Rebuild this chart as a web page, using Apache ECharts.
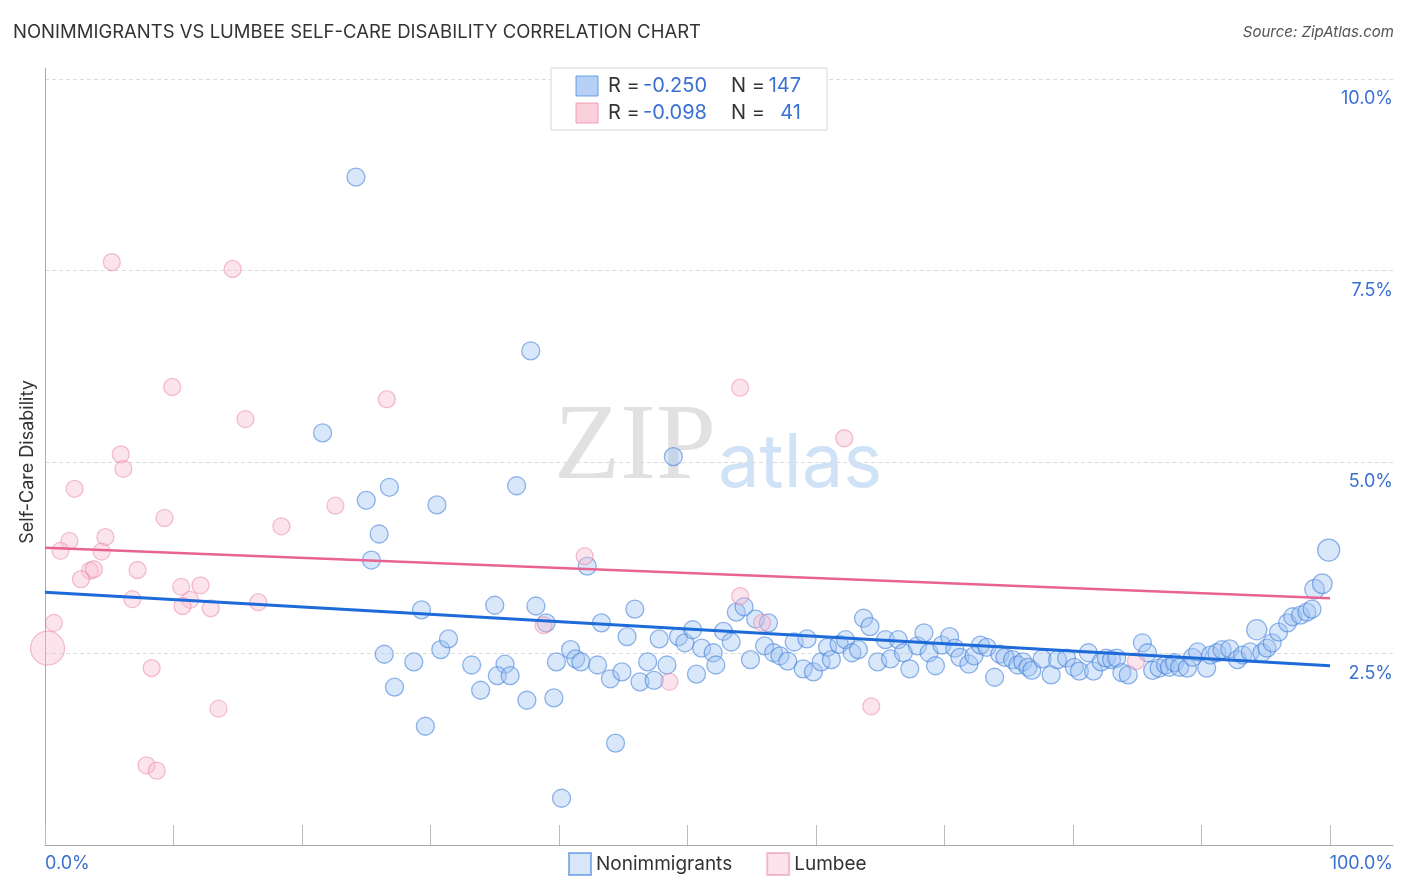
<!DOCTYPE html>
<html><head><meta charset="utf-8">
<script src="https://cdn.jsdelivr.net/npm/echarts@6/dist/echarts.min.js"></script>
<style>html,body{margin:0;padding:0;background:#fff}#c{width:1406px;height:892px}</style>
</head><body><div id="c"></div>
<script>
const titleText = 'NONIMMIGRANTS VS LUMBEE SELF-CARE DISABILITY CORRELATION CHART';
const sourceText = 'Source: ZipAtlas.com';
const seriesNames = ['Nonimmigrants', 'Lumbee'];
const statsR = ['-0.250', '-0.098'];
const statsN = ['147', '41'];
const yTickLabels = ['2.5%', '5.0%', '7.5%', '10.0%'];
const xTickLabels = ['0.0%', '100.0%'];
// [x %, y %, relative weight]
const nonimmigrants = [[24.2,8.72],[37.8,6.45],[21.6,5.38],[48.9,5.07],[25.0,4.50],[26.8,4.67],[36.7,4.69],[30.5,4.44],[26.0,4.06],[25.4,3.72],[42.2,3.64],[29.3,3.07],[35.0,3.13],[38.2,3.12],[45.9,3.08],[39.0,2.90],[43.3,2.90],[26.4,2.49],[28.7,2.39],[30.8,2.55],[31.4,2.69],[33.2,2.35],[35.8,2.36],[35.2,2.21],[36.2,2.21],[33.9,2.02],[27.2,2.06],[29.6,1.55],[37.5,1.89],[39.6,1.92],[40.2,0.61],[44.4,1.33],[39.8,2.39],[40.9,2.55],[41.3,2.43],[41.7,2.39],[43.0,2.35],[44.0,2.17],[44.9,2.26],[46.3,2.13],[46.9,2.39],[47.4,2.15],[48.4,2.35],[45.3,2.72],[47.8,2.69],[49.3,2.72],[49.8,2.64],[50.4,2.81],[51.1,2.57],[50.7,2.23],[52.0,2.51],[52.2,2.35],[52.8,2.79],[53.4,2.65],[53.8,3.04],[54.4,3.11],[54.9,2.42],[55.3,2.95],[56.3,2.90],[56.0,2.60],[56.7,2.51],[57.2,2.47],[57.8,2.40],[58.3,2.65],[59.3,2.69],[59.0,2.30],[59.8,2.26],[60.4,2.39],[60.9,2.58],[61.2,2.42],[61.8,2.62],[62.3,2.68],[62.8,2.51],[63.3,2.55],[63.7,2.96],[64.2,2.85],[64.8,2.39],[65.4,2.68],[65.8,2.43],[66.4,2.68],[66.8,2.51],[67.3,2.30],[67.9,2.60],[68.4,2.77],[68.8,2.51],[69.3,2.34],[69.8,2.61],[70.4,2.72],[70.8,2.57],[71.2,2.45],[71.9,2.36],[72.3,2.47],[72.8,2.61],[73.3,2.58],[73.9,2.19],[74.3,2.49],[74.7,2.45],[75.3,2.42],[75.7,2.35],[76.1,2.39],[76.5,2.32],[76.8,2.28],[77.6,2.43],[78.3,2.22],[78.8,2.42],[79.5,2.44],[80.1,2.32],[80.5,2.27],[81.2,2.51],[81.6,2.27],[82.2,2.39],[82.6,2.44],[83.0,2.42],[83.4,2.44],[83.8,2.25],[84.3,2.22],[85.4,2.64],[85.8,2.51],[86.2,2.28],[86.7,2.31],[87.2,2.35],[87.5,2.32],[87.9,2.38],[88.3,2.32],[88.9,2.31],[89.3,2.45],[89.7,2.52],[90.4,2.31],[90.7,2.48],[91.2,2.51],[91.6,2.55],[92.2,2.56],[92.8,2.42],[93.2,2.48],[93.8,2.52],[94.3,2.81,1.25],[94.7,2.51],[95.1,2.57],[95.5,2.64],[96.0,2.78],[96.7,2.90],[97.1,2.98],[97.7,3.00],[98.2,3.04],[98.6,3.08],[98.8,3.34,1.2],[99.4,3.41,1.2],[99.9,3.85,1.5]];
const lumbee = [[5.2,7.61],[14.6,7.52],[9.9,5.98],[26.6,5.82],[54.1,5.97],[15.6,5.56],[62.2,5.31],[5.9,5.10],[6.1,4.91],[2.3,4.65],[9.3,4.27],[22.6,4.43],[18.4,4.16],[1.9,3.97],[4.7,4.02],[1.2,3.84],[4.4,3.83],[42.0,3.77],[3.5,3.58],[3.8,3.60],[2.8,3.47],[7.2,3.59],[6.8,3.21],[10.6,3.37],[12.1,3.39],[11.3,3.20],[10.7,3.12],[12.9,3.09],[16.6,3.17],[54.1,3.25],[55.8,2.90],[38.8,2.87],[0.7,2.90],[0.2,2.57,4],[8.3,2.31],[48.6,2.13],[13.5,1.78],[64.3,1.81],[7.9,1.04],[8.7,0.97],[84.9,2.40]];
const nonimmigrantsTrend = [[0,3.30],[100,2.34]];
const lumbeeTrend = [[0,3.88],[100,3.22]];

const FONT = 'Inter, "Noto Sans", sans-serif';
const BLUE_TXT = '#3b70d3';
const chart = echarts.init(document.getElementById('c'), null, {renderer: 'canvas'});
const sizeFn = base => (v => base * Math.sqrt(v[2] || 1));

const legendBoxX = 551, legendBoxY = 68;
const graphics = [
  {type: 'text', z: 0, left: 554, top: 396, style: {text: 'ZIP', font: '108px "Liberation Serif", "DejaVu Serif", serif', fill: 'rgba(200,200,200,0.55)'}},
  {type: 'text', z: 0, left: 718, top: 428, style: {text: 'atlas', font: '74px ' + FONT, fill: 'rgba(150,190,235,0.45)'}},
  {type: 'rect', z: 10, shape: {x: legendBoxX, y: legendBoxY, width: 276, height: 62}, style: {fill: '#fff', stroke: '#d8d8d8', lineWidth: 1}}
];
const swFill = ['rgba(164,198,242,0.8)', 'rgba(249,196,212,0.8)'];
const swStroke = ['rgba(80,140,225,0.8)', 'rgba(235,140,170,0.8)'];
for (let i = 0; i < 2; i++) {
  const cy = 86 + i * 27;
  graphics.push({type: 'rect', z: 11, shape: {x: 576, y: cy - 10, width: 22, height: 20}, style: {fill: swFill[i], stroke: swStroke[i], lineWidth: 1}});
  graphics.push({type: 'text', z: 11, x: 608, y: cy, style: {text: 'R = ', font: '20px ' + FONT, fill: '#333', verticalAlign: 'middle'}});
  graphics.push({type: 'text', z: 11, x: 643, y: cy, style: {text: statsR[i], font: '20px ' + FONT, fill: BLUE_TXT, verticalAlign: 'middle'}});
  graphics.push({type: 'text', z: 11, x: 731, y: cy, style: {text: 'N = ', font: '20px ' + FONT, fill: '#333', verticalAlign: 'middle'}});
  graphics.push({type: 'text', z: 11, x: 801, y: cy, style: {text: statsN[i], font: '20px ' + FONT, fill: BLUE_TXT, verticalAlign: 'middle', align: 'right'}});
}

chart.setOption({
  animation: false,
  textStyle: {fontFamily: FONT},
  title: [
    {text: titleText, left: 13, top: 23, padding: 0, textStyle: {fontSize: 18.5, fontWeight: 'normal', color: '#333', fontFamily: FONT}},
    {text: sourceText, right: 12, top: 25, padding: 0, textStyle: {fontSize: 15, fontWeight: 'normal', fontStyle: 'italic', color: '#555', fontFamily: FONT}}
  ],
  graphic: graphics,
  legend: {
    data: seriesNames, left: 568, bottom: 16, itemWidth: 22, itemHeight: 22, itemGap: 34, icon: 'rect',
    textStyle: {fontSize: 19, color: '#333', fontFamily: FONT}, padding: [0, 0, 0, 0]
  },
  grid: [
    {left: 45, right: 13, top: 68, bottom: 47},
    {left: 45, right: 13, top: 79, bottom: 47},
    {left: 45, right: 76, top: 79, bottom: 47}
  ],
  xAxis: [
    {gridIndex: 0, type: 'value', min: 0, max: 1, interval: 1,
      axisLine: {show: true, lineStyle: {color: '#aaa', width: 1}}, axisTick: {show: false}, splitLine: {show: false},
      axisLabel: {show: true, color: BLUE_TXT, fontSize: 18, margin: 10, alignMinLabel: 'left', alignMaxLabel: 'right',
        formatter: v => (v === 0 ? xTickLabels[0] : xTickLabels[1])}},
    {gridIndex: 1, type: 'value', min: 0, max: 1, show: false},
    {gridIndex: 2, type: 'value', min: 0, max: 100, interval: 10,
      axisLine: {show: false}, axisLabel: {show: false}, splitLine: {show: false},
      axisTick: {show: true, inside: true, length: 20, lineStyle: {color: '#bbb'}}}
  ],
  yAxis: [
    {gridIndex: 0, type: 'value', min: 0, max: 1,
      axisLine: {show: true, lineStyle: {color: '#aaa'}}, axisTick: {show: false}, axisLabel: {show: false}, splitLine: {show: false}},
    {gridIndex: 1, type: 'value', min: 0, max: 10, interval: 2.5, position: 'right',
      axisLine: {show: false}, axisTick: {show: false},
      splitLine: {show: true, lineStyle: {color: '#dcdcdc', type: [4, 3], width: 1}},
      axisLabel: {show: true, inside: true, margin: 0, color: BLUE_TXT, fontSize: 18, verticalAlign: 'top', padding: [11, 0, 0, 0],
        formatter: v => { const i = Math.round(v / 2.5) - 1; return i >= 0 ? yTickLabels[i] : ''; }}},
    {gridIndex: 2, type: 'value', min: 0, max: 10, name: 'Self-Care Disability', nameLocation: 'middle', nameGap: 8,
      nameTextStyle: {fontSize: 18, color: '#333', fontFamily: FONT},
      axisLine: {show: false}, axisTick: {show: false}, axisLabel: {show: false}, splitLine: {show: false}}
  ],
  series: [
    {name: seriesNames[0], type: 'scatter', xAxisIndex: 2, yAxisIndex: 2, data: nonimmigrants, symbolSize: sizeFn(18), z: 3,
      itemStyle: {color: 'rgba(160,196,242,0.5)', borderColor: 'rgba(60,125,215,0.7)', borderWidth: 1.3}},
    {name: seriesNames[1], type: 'scatter', xAxisIndex: 2, yAxisIndex: 2, data: lumbee, symbolSize: sizeFn(17), z: 3,
      itemStyle: {color: 'rgba(248,188,208,0.5)', borderColor: 'rgba(232,125,162,0.6)', borderWidth: 1.3}},
    {name: 'trendA', type: 'line', xAxisIndex: 2, yAxisIndex: 2, data: nonimmigrantsTrend, symbol: 'none', z: 5,
      lineStyle: {color: '#1d6ad9', width: 3}},
    {name: 'trendB', type: 'line', xAxisIndex: 2, yAxisIndex: 2, data: lumbeeTrend, symbol: 'none', z: 5,
      lineStyle: {color: '#e8638f', width: 2.5}}
  ]
});
</script></body></html>
